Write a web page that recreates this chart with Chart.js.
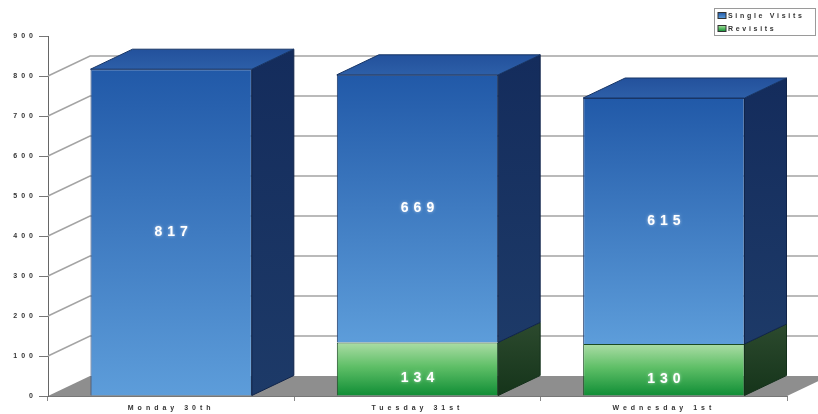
<!DOCTYPE html>
<html>
<head>
<meta charset="utf-8">
<script src="https://cdn.jsdelivr.net/npm/chart.js@4.4.1/dist/chart.umd.min.js"></script>
<style>
html,body{margin:0;padding:0;background:#fff;}
#c{display:block;}
</style>
</head>
<body>
<canvas id="c" width="818" height="414"></canvas>
<script>
const categories = ['Monday 30th', 'Tuesday 31st', 'Wednesday 1st'];
const singleVisits = [817, 669, 615];
const revisits = [0, 134, 130];
const yTickValues = [0, 100, 200, 300, 400, 500, 600, 700, 800, 900];
const seriesNames = ['Single Visits', 'Revisits'];

const DX = 42, DY = 20;
const FONT = '"Liberation Sans", Arial, sans-serif';

function vGrad(ctx, y0, y1, stops) {
  const g = ctx.createLinearGradient(0, y0, 0, y1);
  stops.forEach(s => g.addColorStop(s[0], s[1]));
  return g;
}
const blueStops = [[0, '#2159a8'], [1, '#5d9dda']];
const greenStops = [[0, '#acdda6'], [0.45, '#5fbf67'], [1, '#0f8d35']];

function segBounds(chart, dsIndex, i) {
  const y = chart.scales.y;
  if (dsIndex === 0) return [y.getPixelForValue(revisits[i]), y.getPixelForValue(0)];
  return [y.getPixelForValue(revisits[i] + singleVisits[i]), y.getPixelForValue(revisits[i])];
}

function frontColor(stops) {
  return function (c) {
    const chart = c.chart;
    if (!chart.chartArea || !chart.scales.y) return stops[0][1];
    const [t, b] = segBounds(chart, c.datasetIndex, c.dataIndex);
    if (Math.abs(b - t) < 1) return stops[0][1];
    return vGrad(chart.ctx, t, b, stops);
  };
}

const threeD = {
  id: 'threeD',
  beforeLayout(chart) { chart.ctx.letterSpacing = '4px'; },
  beforeDraw(chart) { chart.ctx.letterSpacing = '4px'; },
  beforeDatasetsDraw(chart) {
    const { ctx, chartArea: { left, right, bottom } } = chart;
    const y = chart.scales.y;
    ctx.save();
    ctx.letterSpacing = '0px';
    // floor
    ctx.beginPath();
    ctx.moveTo(left, bottom);
    ctx.lineTo(right, bottom);
    ctx.lineTo(right + DX, bottom - DY);
    ctx.lineTo(left + DX, bottom - DY);
    ctx.closePath();
    ctx.fillStyle = '#8e8e8e';
    ctx.fill();
    // back-wall gridlines
    ctx.strokeStyle = '#a4a4a4';
    ctx.lineWidth = 1.5;
    yTickValues.forEach(v => {
      if (v === 0 || v === 900) return;
      const py = y.getPixelForValue(v);
      ctx.beginPath();
      ctx.moveTo(left, py);
      ctx.lineTo(left + DX, py - DY);
      ctx.lineTo(chart.width + 5, py - DY);
      ctx.stroke();
    });
    ctx.restore();
  },
  afterDatasetsDraw(chart) {
    const ctx = chart.ctx;
    ctx.save();
    ctx.letterSpacing = '0px';
    const metas = [chart.getDatasetMeta(0), chart.getDatasetMeta(1)];
    metas.forEach((meta, di) => {
      meta.data.forEach((bar, i) => {
        const p = bar.getProps(['x', 'y', 'base', 'width'], true);
        const top = Math.min(p.y, p.base), bot = Math.max(p.y, p.base);
        if (bot - top < 0.5) return;
        const l = p.x - p.width / 2, r = p.x + p.width / 2;
        // side face
        ctx.beginPath();
        ctx.moveTo(r, top);
        ctx.lineTo(r + DX, top - DY);
        ctx.lineTo(r + DX, bot - DY);
        ctx.lineTo(r, bot);
        ctx.closePath();
        ctx.fillStyle = di === 1
          ? vGrad(ctx, top - DY, bot, [[0, '#142c5c'], [1, '#1d3a68']])
          : vGrad(ctx, top - DY, bot, [[0, '#2c4a2e'], [1, '#15341a']]);
        ctx.fill();
        ctx.strokeStyle = di === 1 ? '#10244a' : '#13301a';
        ctx.lineWidth = 1;
        ctx.stroke();
        // top face for the topmost segment
        if (di === 1) {
          ctx.beginPath();
          ctx.moveTo(l, top);
          ctx.lineTo(l + DX, top - DY);
          ctx.lineTo(r + DX, top - DY);
          ctx.lineTo(r, top);
          ctx.closePath();
          ctx.fillStyle = vGrad(ctx, top - DY, top, [[0, '#23519c'], [1, '#2d5fa8']]);
          ctx.fill();
          ctx.strokeStyle = '#173566';
          ctx.stroke();
        }
      });
    });
    // value labels
    ctx.font = 'bold 14px ' + FONT;
    ctx.letterSpacing = '5px';
    ctx.textAlign = 'center';
    ctx.textBaseline = 'middle';
    ctx.fillStyle = '#ffffff';
    ctx.shadowColor = 'rgba(255,255,255,0.6)';
    ctx.shadowBlur = 3;
    metas.forEach((meta, di) => {
      const vals = di === 0 ? revisits : singleVisits;
      meta.data.forEach((bar, i) => {
        if (!vals[i]) return;
        const p = bar.getProps(['x', 'y', 'base'], true);
        const cy = (p.y + p.base) / 2 + (di === 0 ? 9 : 0);
        ctx.fillText(String(vals[i]), p.x + 2.5, cy);
      });
    });
    ctx.restore();
  },
  afterDraw(chart) {
    const ctx = chart.ctx;
    ctx.save();
    ctx.letterSpacing = '2.7px';
    ctx.fillStyle = '#ffffff';
    ctx.strokeStyle = '#9a9a9a';
    ctx.lineWidth = 1;
    ctx.fillRect(714.5, 8.5, 101, 27);
    ctx.strokeRect(714.5, 8.5, 101, 27);
    const items = [
      { name: seriesNames[0], stops: blueStops, y: 15.5 },
      { name: seriesNames[1], stops: greenStops, y: 28.5 }
    ];
    ctx.font = 'bold 7px ' + FONT;
    ctx.textBaseline = 'middle';
    ctx.textAlign = 'left';
    items.forEach(it => {
      ctx.fillStyle = vGrad(ctx, it.y - 3, it.y + 3, it.stops);
      ctx.fillRect(718, it.y - 3, 8, 6);
      ctx.strokeStyle = '#333';
      ctx.strokeRect(718, it.y - 3, 8, 6);
      ctx.fillStyle = '#333';
      ctx.fillText(it.name, 728, it.y + 0.5);
    });
    ctx.restore();
  }
};

new Chart(document.getElementById('c'), {
  type: 'bar',
  data: {
    labels: categories,
    datasets: [
      {
        label: seriesNames[1],
        data: revisits,
        backgroundColor: frontColor(greenStops),
        borderColor: '#1b4a23',
        borderWidth: 1,
        barPercentage: 0.655,
        categoryPercentage: 1
      },
      {
        label: seriesNames[0],
        data: singleVisits,
        backgroundColor: frontColor(blueStops),
        borderColor: '#1c3664',
        borderWidth: 1,
        barPercentage: 0.655,
        categoryPercentage: 1
      }
    ]
  },
  options: {
    responsive: false,
    animation: false,
    devicePixelRatio: 1,
    layout: { padding: { top: 36, right: 31, left: 0, bottom: 0 } },
    plugins: { legend: { display: false }, tooltip: { enabled: false } },
    scales: {
      x: {
        stacked: true,
        grid: { offset: true, drawOnChartArea: false, tickLength: 5, color: '#888' },
        border: { color: '#777', width: 1 },
        ticks: { color: '#333', font: { family: FONT, size: 7, weight: 'bold' }, padding: 3, maxRotation: 0 },
        afterFit(s) { s.height = 18; }
      },
      y: {
        stacked: true,
        min: 0,
        max: 900,
        ticks: { stepSize: 100, color: '#333', font: { family: FONT, size: 7, weight: 'bold' }, padding: 2 },
        grid: { drawOnChartArea: false, tickLength: 9, color: '#777' },
        border: { color: '#666', width: 1 },
        afterFit(s) { s.width = 48; }
      }
    }
  },
  plugins: [threeD]
});
</script>
</body>
</html>
